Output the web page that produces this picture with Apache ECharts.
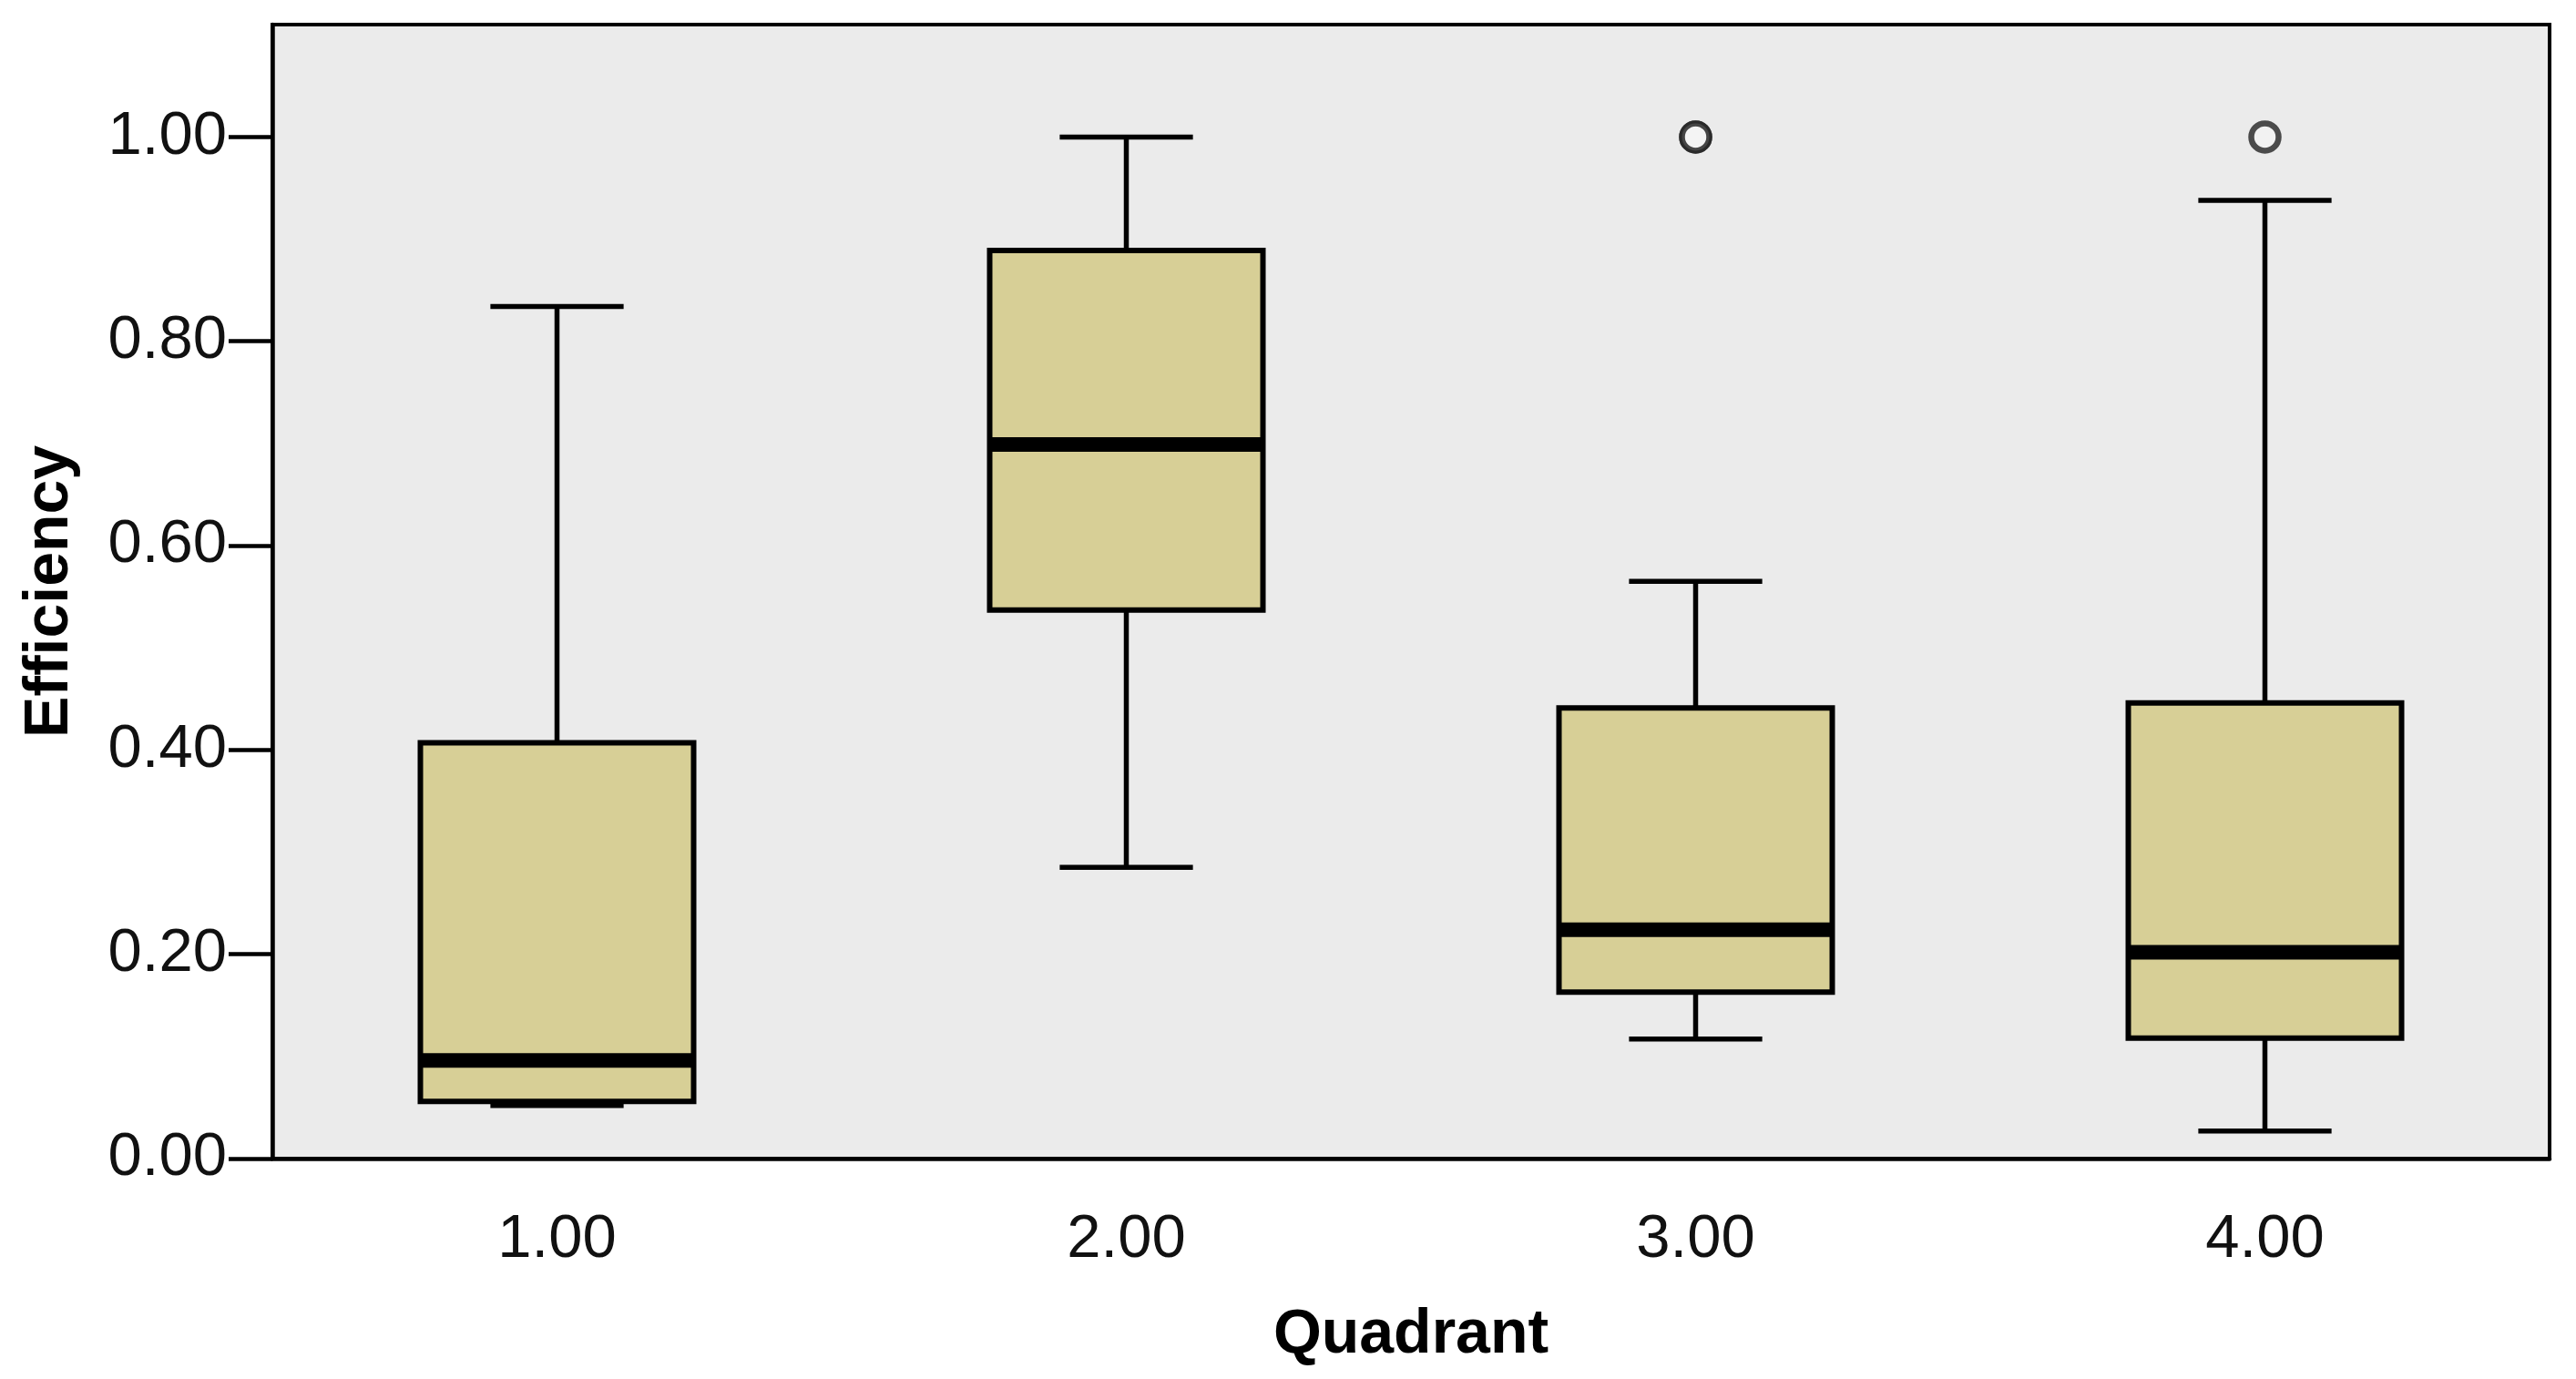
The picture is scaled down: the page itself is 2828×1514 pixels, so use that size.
<!DOCTYPE html>
<html>
<head>
<meta charset="utf-8">
<title>Efficiency by Quadrant</title>
<script src="https://cdn.jsdelivr.net/npm/echarts@6/dist/echarts.min.js"></script>
<style>
    html, body { margin: 0; padding: 0; background: #fff; }
    #chart { width: 2828px; height: 1514px; }
</style>
</head>
<body>
<div id="chart"></div>
<script>
// box statistics
const categories = ['1.00', '2.00', '3.00', '4.00'];
const lowWhisker = [0.052, 0.285, 0.117, 0.027];
const q1 = [0.056, 0.537, 0.163, 0.118];
const median = [0.096, 0.699, 0.224, 0.202];
const q3 = [0.407, 0.889, 0.441, 0.446];
const highWhisker = [0.834, 1.000, 0.565, 0.938];
// [category index, value]
const outliers = [[2, 1.0], [2, 1.0], [3, 1.0]];
const yTicks = [0, 0.2, 0.4, 0.6, 0.8, 1.0];

const FONT = '"Liberation Sans", Arial, sans-serif';

function renderBox(params, api) {
    const idx = api.value(0);
    const band = api.size([1, 0])[0];
    const boxHalf = band * 0.24;
    const capHalf = band * 0.117;
    const pLow = api.coord([idx, api.value(1)]);
    const pQ1 = api.coord([idx, api.value(2)]);
    const pMed = api.coord([idx, api.value(3)]);
    const pQ3 = api.coord([idx, api.value(4)]);
    const pHigh = api.coord([idx, api.value(5)]);
    const x = pQ1[0];
    const lineStyle = { stroke: '#000', lineWidth: 5.5, fill: null };
    return {
        type: 'group',
        children: [
            { type: 'line', shape: { x1: x, y1: pHigh[1], x2: x, y2: pQ3[1] }, style: lineStyle },
            { type: 'line', shape: { x1: x, y1: pLow[1], x2: x, y2: pQ1[1] }, style: lineStyle },
            { type: 'line', shape: { x1: x - capHalf, y1: pHigh[1], x2: x + capHalf, y2: pHigh[1] }, style: lineStyle },
            { type: 'line', shape: { x1: x - capHalf, y1: pLow[1], x2: x + capHalf, y2: pLow[1] }, style: lineStyle },
            {
                type: 'rect',
                shape: { x: x - boxHalf, y: pQ3[1], width: boxHalf * 2, height: pQ1[1] - pQ3[1] },
                style: { fill: '#D7CF96', stroke: '#000', lineWidth: 6 }
            },
            { type: 'line', shape: { x1: x - boxHalf, y1: pMed[1], x2: x + boxHalf, y2: pMed[1] }, style: { stroke: '#000', lineWidth: 16 } }
        ]
    };
}

const chart = echarts.init(document.getElementById('chart'));
const option = {
    animation: false,
    backgroundColor: '#fff',
    grid: {
        left: 299,
        right: 29,
        top: 27,
        bottom: 242,
        show: true,
        backgroundColor: '#EBEBEB',
        borderColor: '#000',
        borderWidth: 4
    },
    xAxis: {
        type: 'category',
        data: categories,
        name: 'Quadrant',
        nameLocation: 'middle',
        nameGap: 160,
        nameTextStyle: { fontFamily: FONT, fontWeight: 'bold', fontSize: 68, color: '#000' },
        axisLine: { lineStyle: { color: '#000', width: 4.5 } },
        axisTick: { alignWithLabel: true, length: 46, lineStyle: { color: '#000', width: 4.5 } },
        axisLabel: { fontFamily: FONT, fontSize: 67, color: '#111', margin: 56 },
        splitLine: { show: false }
    },
    yAxis: {
        type: 'value',
        min: 0,
        max: 1.11,
        name: 'Efficiency',
        nameLocation: 'middle',
        nameRotate: 90,
        nameGap: 210,
        nameTextStyle: { fontFamily: FONT, fontWeight: 'bold', fontSize: 68, color: '#000' },
        axisLine: { show: true, lineStyle: { color: '#000', width: 4.5 } },
        axisTick: { show: true, length: 48, customValues: yTicks, lineStyle: { color: '#000', width: 4.5 } },
        axisLabel: {
            fontFamily: FONT, fontSize: 67, color: '#111', margin: 50,
            padding: [16, 0, 0, 0],
            customValues: yTicks,
            formatter: function (v) { return v.toFixed(2); }
        },
        splitLine: { show: false }
    },
    series: [
        {
            type: 'custom',
            renderItem: renderBox,
            encode: { x: 0, y: [1, 2, 3, 4, 5] },
            data: categories.map(function (c, i) {
                return [i, lowWhisker[i], q1[i], median[i], q3[i], highWhisker[i]];
            })
        },
        {
            type: 'scatter',
            symbol: 'circle',
            symbolSize: 30,
            itemStyle: { color: '#F4F4F4', borderColor: '#222', borderWidth: 6.5 },
            data: outliers
        }
    ]
};
chart.setOption(option);
</script>
</body>
</html>
